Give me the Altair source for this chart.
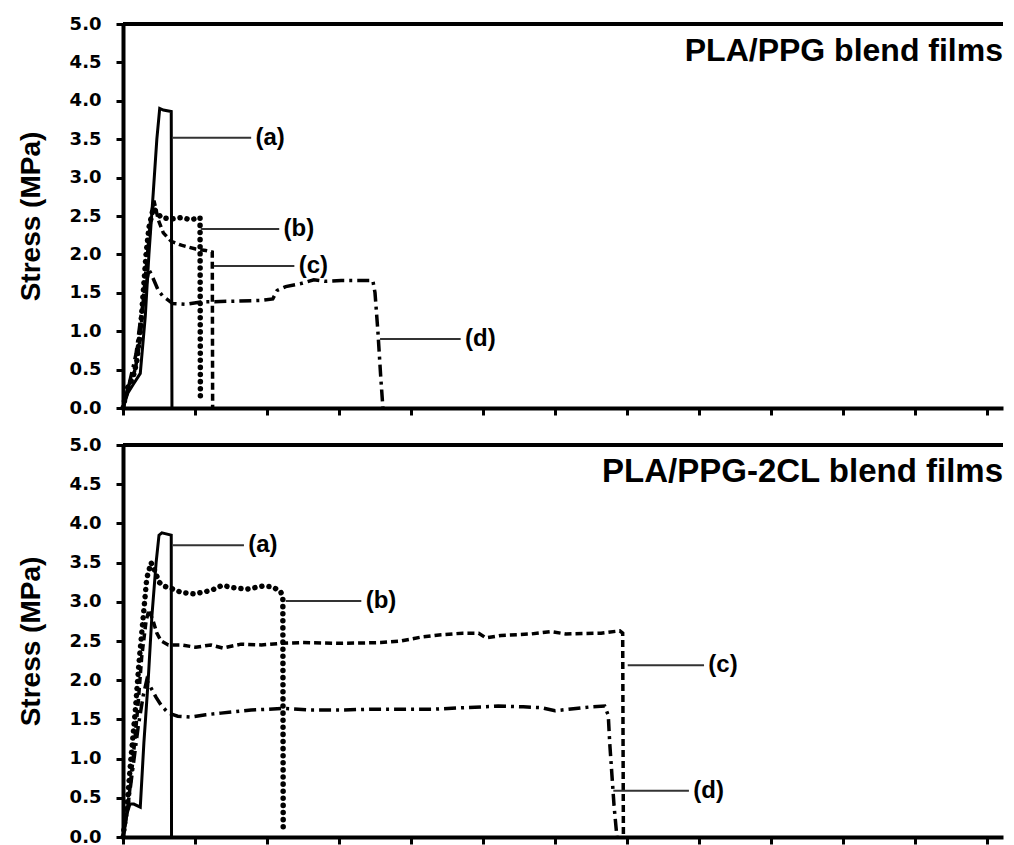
import altair as alt
import pandas as pd

# x: strain in tick-interval units (axis labels are cut off in the source), y: stress (MPa)
# ---- Panel 1: PLA/PPG blend films ----
p1_a_x = [0, 0.07, 0.15, 0.24, 0.31, 0.36, 0.42, 0.47, 0.51, 0.56, 0.67, 0.68]
p1_a_y = [0, 0.20, 0.32, 0.45, 1.20, 2.00, 2.80, 3.50, 3.90, 3.88, 3.86, 0.0]

p1_b_x = [0, 0.056, 0.14, 0.19, 0.24, 0.28, 0.32, 0.36, 0.42, 0.47, 0.53, 0.67, 0.81, 0.94, 1.07, 1.075]
p1_b_y = [0, 0.25, 0.40, 0.60, 1.00, 1.50, 2.00, 2.35, 2.60, 2.55, 2.48, 2.46, 2.48, 2.45, 2.48, 0.1]

p1_c_x = [0, 0.083, 0.17, 0.24, 0.29, 0.35, 0.39, 0.43, 0.49, 0.56, 0.67, 0.81, 1.01, 1.15, 1.24, 1.245]
p1_c_y = [0, 0.30, 0.50, 0.90, 1.50, 2.10, 2.50, 2.70, 2.45, 2.28, 2.17, 2.12, 2.07, 2.05, 2.03, 0.0]

p1_d_x = [0, 0.083, 0.18, 0.25, 0.32, 0.36, 0.39, 0.49, 0.55, 0.69, 0.88, 1.08, 1.50, 1.92, 2.08,
          2.14, 2.26, 2.47, 2.65, 2.80, 3.03, 3.47, 3.50, 3.54, 3.58, 3.61]
p1_d_y = [0, 0.30, 0.70, 1.20, 1.60, 1.80, 1.75, 1.53, 1.46, 1.36, 1.35, 1.38, 1.39, 1.40, 1.42,
          1.53, 1.58, 1.62, 1.67, 1.65, 1.66, 1.66, 1.50, 1.00, 0.40, 0.0]

# ---- Panel 2: PLA/PPG-2CL blend films ----
p2_a_x = [0, 0.056, 0.097, 0.15, 0.24, 0.29, 0.35, 0.40, 0.46, 0.50, 0.54, 0.67, 0.674]
p2_a_y = [0, 0.30, 0.42, 0.42, 0.38, 1.20, 2.00, 2.80, 3.50, 3.85, 3.88, 3.85, 0.0]

p2_b_x = [0, 0.056, 0.11, 0.17, 0.22, 0.28, 0.33, 0.39, 0.44, 0.50, 0.57, 0.67, 0.81, 0.99, 1.15,
          1.26, 1.38, 1.53, 1.72, 1.94, 2.08, 2.19, 2.22, 2.225]
p2_b_y = [0, 0.40, 1.00, 1.60, 2.20, 2.80, 3.30, 3.50, 3.40, 3.25, 3.20, 3.17, 3.12, 3.10, 3.13,
          3.16, 3.21, 3.18, 3.16, 3.20, 3.19, 3.13, 3.05, 0.1]

p2_c_x = [0, 0.07, 0.14, 0.21, 0.26, 0.32, 0.36, 0.42, 0.47, 0.53, 0.63, 0.81, 1.01, 1.22, 1.39,
          1.64, 1.92, 2.19, 2.47, 3.03, 3.58, 3.86, 4.14, 4.42, 4.72, 4.94, 5.04, 5.25, 5.67,
          5.94, 6.15, 6.64, 6.90, 6.94, 6.95]
p2_c_y = [0, 0.40, 1.00, 1.70, 2.30, 2.75, 2.90, 2.75, 2.60, 2.50, 2.45, 2.45, 2.42, 2.45, 2.41,
          2.46, 2.45, 2.47, 2.48, 2.47, 2.48, 2.50, 2.55, 2.58, 2.60, 2.60, 2.54, 2.57, 2.59,
          2.62, 2.59, 2.60, 2.63, 2.60, 0.0]

p2_d_x = [0, 0.07, 0.14, 0.21, 0.28, 0.33, 0.39, 0.46, 0.53, 0.63, 0.76, 0.94, 1.15, 1.36, 1.78,
          2.24, 2.61, 3.03, 3.44, 4.14, 4.32, 4.76, 5.21, 5.56, 5.81, 6.00, 6.29, 6.50, 6.69,
          6.74, 6.76, 6.79, 6.82, 6.85, 6.86]
p2_d_y = [0, 0.40, 0.90, 1.40, 1.80, 2.00, 1.90, 1.78, 1.68, 1.58, 1.54, 1.53, 1.56, 1.58, 1.62,
          1.64, 1.62, 1.62, 1.63, 1.63, 1.63, 1.65, 1.67, 1.66, 1.65, 1.61, 1.64, 1.66, 1.67,
          1.55, 1.20, 0.80, 0.40, 0.10, 0.0]

# annotation labels and leader lines (x start, x end, y, label)
ann_labels = ["(a)", "(b)", "(c)", "(d)"]
p1_ann_x1 = [0.68, 1.08, 1.26, 3.57]
p1_ann_x2 = [1.78, 2.17, 2.38, 4.69]
p1_ann_y = [3.52, 2.33, 1.85, 0.90]
p2_ann_x1 = [0.69, 2.26, 7.01, 6.81]
p2_ann_x2 = [1.68, 3.31, 8.07, 7.86]
p2_ann_y = [3.72, 3.01, 2.19, 0.59]

panel_titles = ["PLA/PPG blend films", "PLA/PPG-2CL blend films"]
y_ticks = [0, 0.5, 1.0, 1.5, 2.0, 2.5, 3.0, 3.5, 4.0, 4.5, 5.0]
x_ticks = list(range(0, 13))

W = 880
XMAX = W / 72.0

styles = {
    "a": dict(strokeWidth=3),
    "b": dict(strokeWidth=5.5, strokeDash=[0.1, 7], strokeCap="round"),
    "c": dict(strokeWidth=3.5, strokeDash=[7, 4]),
    "d": dict(strokeWidth=3.5, strokeDash=[12, 5, 3, 5]),
}

xscale = alt.Scale(domain=[0, XMAX], nice=False, zero=False)
yscale = alt.Scale(domain=[0, 5], nice=False)

xaxis = alt.Axis(values=x_ticks, labels=False, title=None, grid=False, tickSize=7,
                 tickWidth=3, tickColor="black", domainColor="black", domainWidth=4)
yaxis = alt.Axis(values=y_ticks, format=".1f", title="Stress (MPa)", grid=False,
                 tickSize=7, tickWidth=3, tickColor="black", domainColor="black",
                 domainWidth=4, labelFont="DejaVu Sans", labelFontWeight="bold",
                 labelFontSize=18, labelColor="black", labelPadding=15,
                 titleFont="Liberation Sans", titleFontSize=28, titleFontWeight="bold",
                 titleColor="black", titlePadding=24)


def make_panel(series, ann_x1, ann_x2, ann_y, title, title_size, height):
    rows = []
    for key, (xs, ys) in series.items():
        for i, (xv, yv) in enumerate(zip(xs, ys)):
            rows.append({"series": key, "i": i, "x": xv, "y": yv})
    df = pd.DataFrame(rows)
    layers = []
    for key in ["d", "c", "b", "a"]:
        layers.append(
            alt.Chart(df).transform_filter(alt.datum.series == key)
            .mark_line(color="black", **styles[key])
            .encode(x=alt.X("x:Q", scale=xscale, axis=xaxis),
                    y=alt.Y("y:Q", scale=yscale, axis=yaxis),
                    order="i:Q")
        )
    ann = pd.DataFrame({"x1": ann_x1, "x2": ann_x2, "y": ann_y, "label": ann_labels})
    ann["lx"] = ann["x2"] + 0.06
    layers.append(
        alt.Chart(ann).mark_rule(color="#333333", strokeWidth=2)
        .encode(x=alt.X("x1:Q", scale=xscale, axis=xaxis), x2="x2:Q",
                y=alt.Y("y:Q", scale=yscale, axis=yaxis))
    )
    layers.append(
        alt.Chart(ann).mark_text(align="left", baseline="middle", font="Liberation Sans",
                                 fontSize=24, fontWeight="bold", color="black")
        .encode(x=alt.X("lx:Q", scale=xscale, axis=xaxis),
                y=alt.Y("y:Q", scale=yscale, axis=yaxis), text="label:N")
    )
    tdf = pd.DataFrame({"tx": [XMAX], "ty": [4.65], "t": [title], "fx": [0], "fy": [5.0]})
    layers.append(
        alt.Chart(tdf).mark_text(align="right", baseline="middle", font="Liberation Sans",
                                 fontSize=title_size, fontWeight="bold", color="black")
        .encode(x=alt.X("tx:Q", scale=xscale, axis=xaxis),
                y=alt.Y("ty:Q", scale=yscale, axis=yaxis), text="t:N")
    )
    tdf["fx2"] = XMAX
    layers.append(
        alt.Chart(tdf).mark_rule(color="black", strokeWidth=4)
        .encode(x=alt.X("fx:Q", scale=xscale, axis=xaxis), x2="fx2:Q",
                y=alt.Y("fy:Q", scale=yscale, axis=yaxis))
    )
    return alt.layer(*layers).properties(width=W, height=height)


top = make_panel({"a": (p1_a_x, p1_a_y), "b": (p1_b_x, p1_b_y),
                  "c": (p1_c_x, p1_c_y), "d": (p1_d_x, p1_d_y)},
                 p1_ann_x1, p1_ann_x2, p1_ann_y, panel_titles[0], 32, 384)
bottom = make_panel({"a": (p2_a_x, p2_a_y), "b": (p2_b_x, p2_b_y),
                     "c": (p2_c_x, p2_c_y), "d": (p2_d_x, p2_d_y)},
                    p2_ann_x1, p2_ann_x2, p2_ann_y, panel_titles[1], 33, 392)

chart = (
    alt.vconcat(top, bottom, spacing=15)
    .properties(padding={"left": 8, "top": 6, "right": 0, "bottom": 0}, background="white")
    .configure_view(stroke="transparent")
)

chart.save("out.html", embed_options={"renderer": "svg", "actions": False})
